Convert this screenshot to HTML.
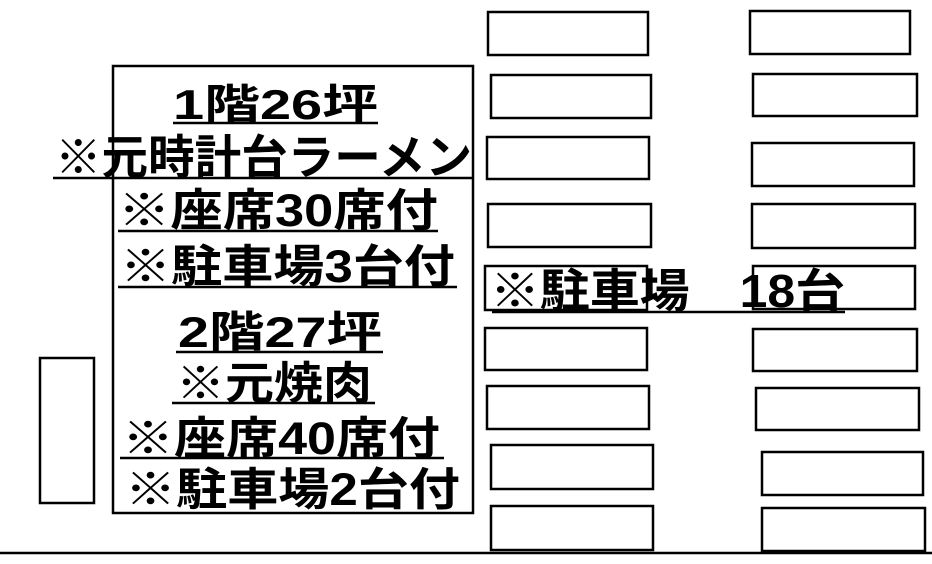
<!DOCTYPE html>
<html><head><meta charset="utf-8"><style>
html,body{margin:0;padding:0;background:#fff;}
svg{display:block;}
text{font-family:"Liberation Sans","Noto Sans CJK JP",sans-serif;font-weight:bold;fill:#000;}
</style></head><body>
<svg width="932" height="564" viewBox="0 0 932 564" xmlns="http://www.w3.org/2000/svg">
<g fill="none" stroke="#000" stroke-width="2.5">
<rect x="40" y="358" width="54" height="145"/>
<rect x="113" y="66" width="360" height="447"/>
<!-- left column -->
<rect x="488" y="12" width="160" height="43"/>
<rect x="491" y="75" width="160" height="43"/>
<rect x="487" y="137" width="162" height="42"/>
<rect x="488" y="204" width="163" height="43"/>
<rect x="485" y="266" width="162" height="44"/>
<rect x="485" y="328" width="162" height="42"/>
<rect x="487" y="386" width="162" height="43"/>
<rect x="491" y="445" width="162" height="44"/>
<rect x="491" y="506" width="162" height="44"/>
<!-- right column -->
<rect x="750" y="11" width="160" height="43"/>
<rect x="753" y="74" width="164" height="42"/>
<rect x="752" y="143" width="162" height="43"/>
<rect x="752" y="204" width="163" height="44"/>
<rect x="753" y="266" width="162" height="43"/>
<rect x="753" y="329" width="164" height="42"/>
<rect x="756" y="388" width="163" height="42"/>
<rect x="762" y="452" width="161" height="43"/>
<rect x="762" y="508" width="163" height="43"/>
</g>
<g stroke="#000" stroke-width="2.5">
<line x1="0" y1="553" x2="932" y2="553"/>
<line x1="173" y1="123" x2="378" y2="123"/>
<line x1="53" y1="178" x2="473" y2="178"/>
<line x1="118" y1="231" x2="438" y2="231"/>
<line x1="118" y1="287" x2="457" y2="287"/>
<line x1="176" y1="352" x2="383" y2="352"/>
<line x1="172" y1="403" x2="375" y2="403"/>
<line x1="120" y1="458" x2="444" y2="458"/>
<line x1="492" y1="312" x2="845" y2="312"/>
</g>
<text x="173" y="119" font-size="42" textLength="205" lengthAdjust="spacingAndGlyphs">1階26坪</text>
<text x="55" y="174" font-size="47" textLength="417" lengthAdjust="spacingAndGlyphs">※元時計台ラーメン</text>
<text x="118" y="226" font-size="45" textLength="320" lengthAdjust="spacingAndGlyphs">※座席30席付</text>
<text x="120" y="282" font-size="45" textLength="335" lengthAdjust="spacingAndGlyphs">※駐車場3台付</text>
<text x="178" y="347" font-size="43" textLength="204" lengthAdjust="spacingAndGlyphs">2階27坪</text>
<text x="176" y="399" font-size="45" textLength="196" lengthAdjust="spacingAndGlyphs">※元焼肉</text>
<text x="122" y="454" font-size="45" textLength="318" lengthAdjust="spacingAndGlyphs">※座席40席付</text>
<text x="125" y="505" font-size="45" textLength="335" lengthAdjust="spacingAndGlyphs">※駐車場2台付</text>
<text x="490" y="307" font-size="46" textLength="355" lengthAdjust="spacingAndGlyphs">※駐車場　18台</text>
</svg>
</body></html>
